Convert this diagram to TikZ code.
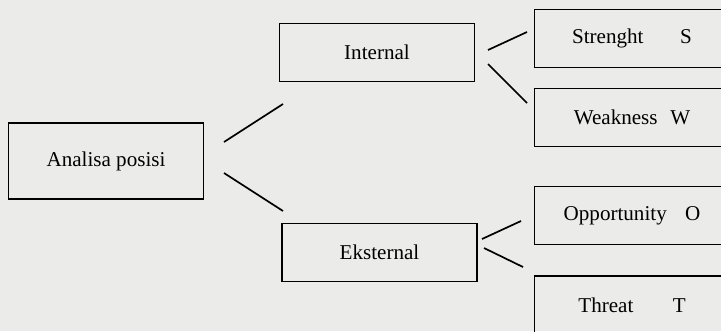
\documentclass[tikz,border=0pt]{standalone}
\usepackage{fontspec}
\setmainfont{Liberation Serif}
\definecolor{kertas}{RGB}{235,235,233}

\begin{document}
\begin{tikzpicture}[x=0.025cm, y=-0.025cm]
\tikzset{kotak/.style={draw, line width=1pt, minimum width=4.875cm, minimum height=1.45cm, inner sep=0pt, font=\fontsize{15}{18}\selectfont}}
\tikzset{garis/.style={line width=1.2pt}}
\clip (0, 0) rectangle (721, 331);
\fill[kertas] (0, 0) rectangle (721, 331);
\node[kotak, minimum height=1.9cm] (A) at (106, 161) {Analisa posisi};
\node[kotak] (I) at (377, 52.5) {Internal};
\node[kotak] (E) at (379.5, 252.5) {Eksternal};
\node[kotak] (S) at (632, 38.5) {Strenght\hspace{26pt}S};
\node[kotak] (W) at (632, 117.5) {Weakness\hspace{9pt}W};
\node[kotak] (O) at (632, 215.5) {Opportunity\hspace{13pt}O};
\node[kotak] (T) at (632, 305) {Threat\hspace{28pt}T};
\coordinate (A1) at (224, 142);
\coordinate (A2) at (224, 173);
\coordinate (I0) at (283, 104);
\coordinate (E0) at (283, 211);
\coordinate (I1) at (488, 50);
\coordinate (I2) at (488, 64);
\coordinate (S0) at (527, 32);
\coordinate (W0) at (527, 103);
\coordinate (E1) at (482, 239);
\coordinate (E2) at (484, 248);
\coordinate (O0) at (521, 221);
\coordinate (T0) at (523, 267);
\draw[garis] (A1) -- (I0);
\draw[garis] (A2) -- (E0);
\draw[garis] (I1) -- (S0);
\draw[garis] (I2) -- (W0);
\draw[garis] (E1) -- (O0);
\draw[garis] (E2) -- (T0);
\end{tikzpicture}
\end{document}
